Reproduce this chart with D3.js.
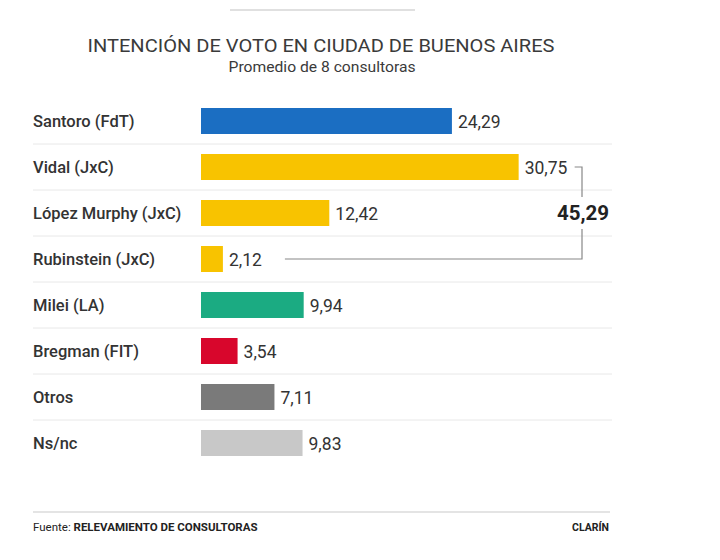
<!DOCTYPE html>
<html><head><meta charset="utf-8">
<script src="https://cdn.jsdelivr.net/npm/d3@7"></script>
<style>body{margin:0;background:#fff}svg{display:block}</style>
</head><body>
<svg id="c" width="720" height="560"></svg>
<script>
const categories = ["Santoro (FdT)","Vidal (JxC)","López Murphy (JxC)","Rubinstein (JxC)","Milei (LA)","Bregman (FIT)","Otros","Ns/nc"];
const values = [24.29, 30.75, 12.42, 2.12, 9.94, 3.54, 7.11, 9.83];
const colors = ["#1b6ec2","#f8c300","#f8c300","#f8c300","#1bab82","#d8062c","#7a7a7a","#c8c8c8"];
const jxcTotal = 45.29;
const title = "INTENCIÓN DE VOTO EN CIUDAD DE BUENOS AIRES";
const subtitle = "Promedio de 8 consultoras";

const svg = d3.select("#c");
const font = "Roboto, 'Liberation Sans', sans-serif";
const fmt = v => d3.format(".2f")(v).replace(".", ",");

const x = d3.scaleLinear().domain([0, 10]).range([201, 304.3]);
const y = d3.scaleBand().domain(categories).range([98, 466]).paddingInner(0.435).paddingOuter(0.2175);

// top rule
svg.append("line").attr("x1",230).attr("x2",415).attr("y1",10).attr("y2",10)
  .attr("stroke","#e0e0e0").attr("stroke-width",2);

svg.append("text").attr("x",321).attr("y",52).attr("text-anchor","middle")
  .attr("font-family",font).attr("font-size",19).attr("fill","#3a3a3a")
  .attr("textLength",467).attr("lengthAdjust","spacingAndGlyphs").text(title);
svg.append("text").attr("x",322).attr("y",72).attr("text-anchor","middle")
  .attr("font-family",font).attr("font-size",15).attr("fill","#3a3a3a")
  .attr("textLength",187).attr("lengthAdjust","spacingAndGlyphs").text(subtitle);

// separators
const step = y.step();
categories.slice(0, -1).forEach((c, i) => {
  const yy = y(c) + y.bandwidth() + (step - y.bandwidth()) / 2;
  svg.append("line").attr("x1",33).attr("x2",612).attr("y1",yy).attr("y2",yy)
    .attr("stroke","#e8e8e8").attr("stroke-width",1);
});

const rows = svg.selectAll("g.row").data(categories).join("g").attr("class","row");
rows.append("text").attr("x",33).attr("y",d => y(d) + y.bandwidth()/2 + 6)
  .attr("font-family",font).attr("font-weight",500).attr("font-size",16.5).attr("fill","#333")
  .text(d => d);
rows.append("rect").attr("x",x(0)).attr("y",d => y(d))
  .attr("width",(d,i) => x(values[i]) - x(0)).attr("height",y.bandwidth())
  .attr("fill",(d,i) => colors[i]);
rows.append("text").attr("x",(d,i) => x(values[i]) + 6).attr("y",d => y(d) + y.bandwidth()/2 + 6.5)
  .attr("font-family",font).attr("font-size",17.5).attr("fill","#333")
  .text((d,i) => fmt(values[i]));

// bracket for JxC
const yV = y("Vidal (JxC)") + y.bandwidth()/2;
const yR = y("Rubinstein (JxC)") + y.bandwidth()/2;
const bx = 582;
const yMid = (yV + yR) / 2;
const g = svg.append("g").attr("stroke","#888").attr("stroke-width",1.2).attr("fill","none");
g.append("path").attr("d",`M${x(values[1]) + 56},${yV}H${bx}V${yMid - 16}`);
g.append("path").attr("d",`M${bx},${yMid + 16}V${yR}H${x(values[3]) + 62}`);
svg.append("text").attr("x",bx + 1).attr("y",yMid + 7).attr("text-anchor","middle")
  .attr("font-family",font).attr("font-weight",700).attr("font-size",20.5).attr("fill","#222")
  .text(fmt(jxcTotal));

// footer
svg.append("line").attr("x1",33).attr("x2",610).attr("y1",512).attr("y2",512)
  .attr("stroke","#e4e4e4").attr("stroke-width",2);
const ft = svg.append("text").attr("x",33).attr("y",531).attr("font-family",font)
  .attr("font-size",11.5).attr("fill","#222");
ft.append("tspan").text("Fuente: ");
ft.append("tspan").attr("font-weight",700).text("RELEVAMIENTO DE CONSULTORAS");
svg.append("text").attr("x",609).attr("y",531).attr("text-anchor","end").attr("font-family",font)
  .attr("font-size",10.5).attr("font-weight",700).attr("fill","#222").text("CLARÍN");
</script>
</body></html>
